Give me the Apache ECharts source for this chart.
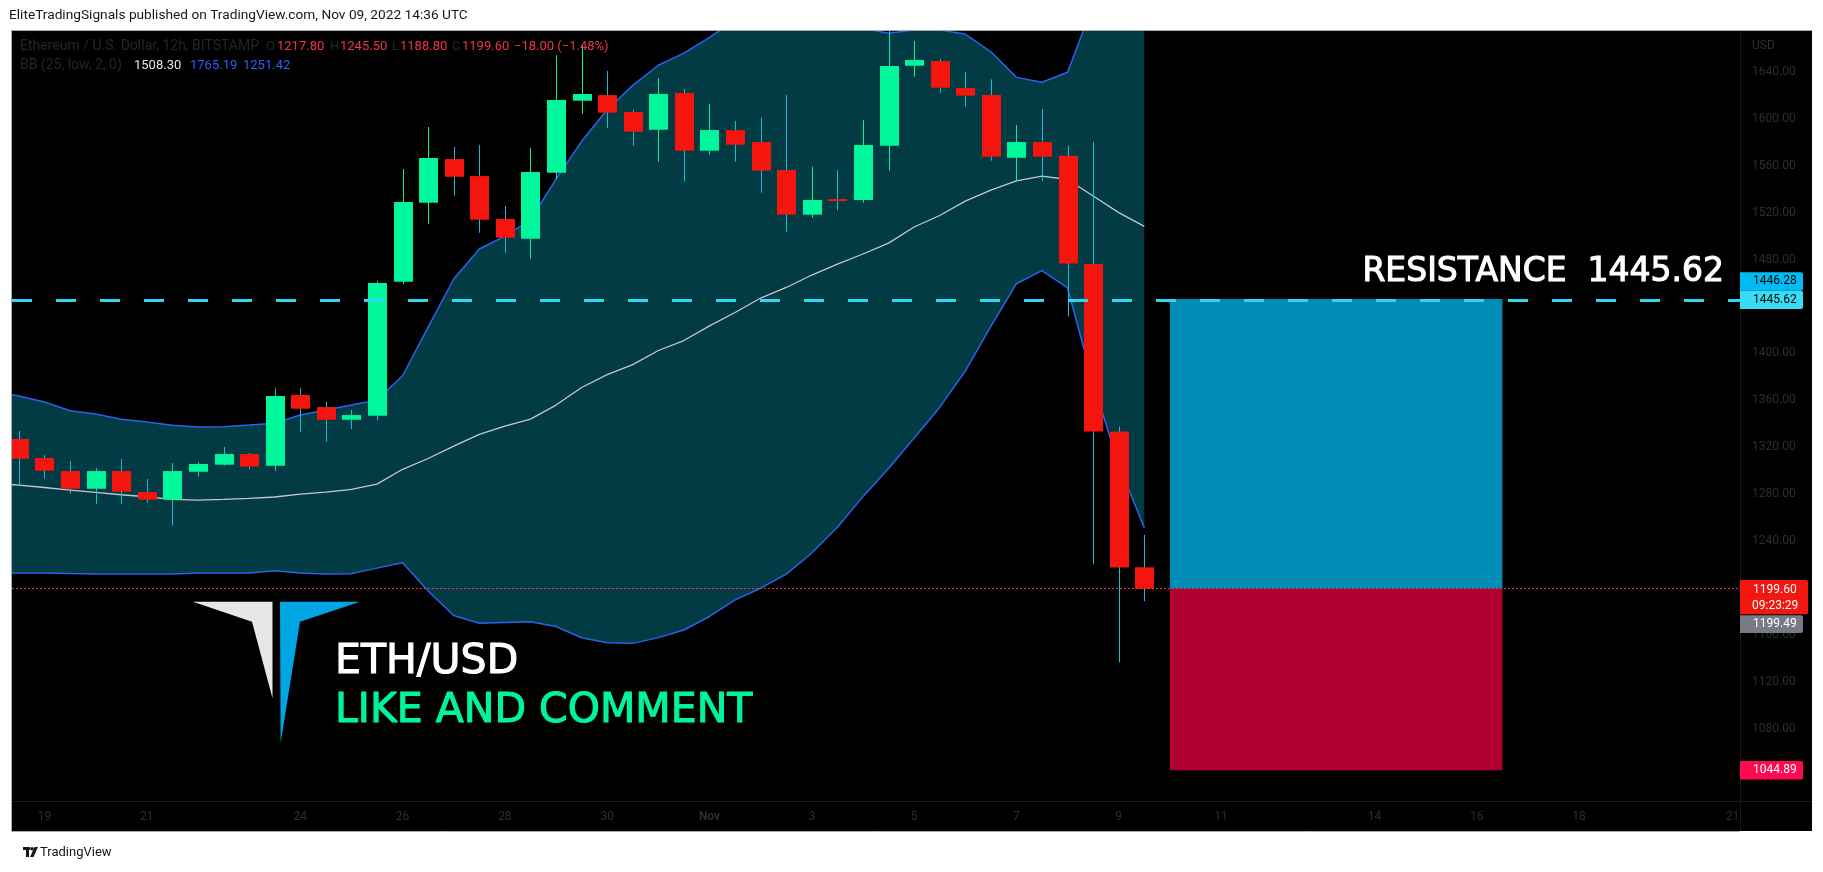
<!DOCTYPE html>
<html><head><meta charset="utf-8">
<script src="https://cdn.jsdelivr.net/npm/echarts@6/dist/echarts.min.js"></script>
<style>html,body{margin:0;padding:0;background:#fff;}#c{width:1823px;height:872px;}</style>
</head><body><div id="c"></div>
<script>
// ---------------- data ----------------
const barTimes = ['2022-10-18 00:00','2022-10-18 12:00','2022-10-19 00:00','2022-10-19 12:00','2022-10-20 00:00','2022-10-20 12:00','2022-10-21 00:00','2022-10-21 12:00','2022-10-22 00:00','2022-10-22 12:00','2022-10-23 00:00','2022-10-23 12:00','2022-10-24 00:00','2022-10-24 12:00','2022-10-25 00:00','2022-10-25 12:00','2022-10-26 00:00','2022-10-26 12:00','2022-10-27 00:00','2022-10-27 12:00','2022-10-28 00:00','2022-10-28 12:00','2022-10-29 00:00','2022-10-29 12:00','2022-10-30 00:00','2022-10-30 12:00','2022-10-31 00:00','2022-10-31 12:00','2022-11-01 00:00','2022-11-01 12:00','2022-11-02 00:00','2022-11-02 12:00','2022-11-03 00:00','2022-11-03 12:00','2022-11-04 00:00','2022-11-04 12:00','2022-11-05 00:00','2022-11-05 12:00','2022-11-06 00:00','2022-11-06 12:00','2022-11-07 00:00','2022-11-07 12:00','2022-11-08 00:00','2022-11-08 12:00','2022-11-09 00:00','2022-11-09 12:00'];
const openP  = [1331.0,1327.1,1310.9,1299.8,1284.7,1299.8,1281.9,1275.4,1299.2,1305.2,1314.3,1304.3,1364.6,1354.3,1343.5,1346.9,1461.1,1528.4,1565.6,1551.1,1514.5,1497.7,1554.0,1615.3,1620.1,1605.7,1590.6,1621.9,1572.7,1590.3,1580.1,1556.3,1518.2,1531.5,1530.7,1577.0,1645.1,1649.1,1626.1,1620.1,1566.7,1580.1,1568.4,1476.3,1333.4,1217.80];
const highP  = [1338.0,1333.9,1313.4,1308.3,1302.4,1310.0,1293.0,1306.6,1307.5,1320.3,1315.2,1370.5,1370.5,1358.6,1351.8,1462.0,1557.1,1592.9,1575.9,1577.6,1525.6,1575.0,1654.0,1663.0,1640.6,1607.6,1634.6,1625.3,1612.5,1598.0,1600.8,1620.1,1559.1,1556.3,1598.9,1680.0,1666.2,1650.8,1639.7,1633.5,1594.6,1608.2,1576.9,1580.1,1337.6,1245.50];
const lowP   = [1318.0,1287.9,1293.3,1280.5,1272.0,1272.0,1272.8,1253.2,1295.0,1304.6,1301.5,1299.8,1333.3,1324.8,1335.6,1343.0,1459.1,1510.5,1534.4,1502.8,1485.8,1480.7,1548.8,1604.2,1592.3,1577.0,1563.3,1546.3,1569.3,1563.3,1536.9,1503.7,1515.6,1522.2,1528.4,1555.7,1635.7,1622.1,1610.2,1564.2,1547.1,1547.1,1431.4,1220.4,1136.9,1188.80];
const closeP = [1327.0,1310.3,1300.1,1284.7,1299.8,1282.2,1275.4,1299.8,1305.8,1314.3,1303.5,1363.7,1352.9,1343.5,1347.5,1460.0,1529.0,1566.5,1550.5,1513.9,1498.6,1554.6,1615.9,1621.0,1605.1,1588.9,1621.0,1572.7,1590.3,1577.8,1555.7,1518.2,1530.7,1529.8,1577.6,1644.9,1650.0,1626.4,1619.6,1567.6,1580.1,1567.6,1476.6,1333.4,1217.60,1199.60];
const bbBasis = [1289.5,1287.8,1285.8,1283.6,1281.7,1279.6,1277.9,1275.7,1275.1,1275.7,1276.6,1277.7,1280.2,1281.9,1284.2,1288.7,1301.3,1310.5,1321.0,1331.0,1338.0,1344.0,1356.0,1371.0,1382.0,1390.5,1402.5,1411.0,1423.5,1434.9,1447.2,1456.2,1466.8,1476.1,1484.7,1494.0,1507.7,1517.5,1529.8,1539.2,1547.1,1551.1,1548.2,1534.1,1520.0,1508.30];
const bbUpper = [1368.0,1363.7,1358.6,1351.2,1348.4,1343.9,1341.6,1338.8,1337.3,1337.6,1339.0,1340.5,1347.5,1351.8,1356.0,1360.3,1381.0,1422.5,1463.4,1489.0,1500.0,1513.7,1548.5,1580.7,1607.6,1628.4,1645.5,1655.9,1669.3,1684.0,1692.0,1697.0,1695.0,1688.0,1677.0,1672.7,1675.5,1675.5,1672.1,1657.0,1635.2,1631.0,1639.5,1697.0,1735.0,1765.19];
const bbLower = [1213.0,1212.9,1213.0,1212.5,1212.0,1212.0,1212.0,1212.0,1213.0,1213.0,1213.0,1214.9,1212.9,1212.0,1212.4,1217.1,1221.6,1197.6,1176.7,1170.1,1170.8,1171.4,1167.3,1157.8,1153.5,1153.0,1157.9,1164.4,1175.9,1190.0,1200.0,1212.0,1230.0,1252.0,1278.0,1302.0,1328.0,1354.0,1385.0,1423.0,1459.4,1470.5,1455.8,1374.8,1304.9,1251.42];
const timeTickDates  = ['2022-10-19 00:00','2022-10-21 00:00','2022-10-24 00:00','2022-10-26 00:00','2022-10-28 00:00','2022-10-30 00:00','2022-11-01 00:00','2022-11-03 00:00','2022-11-05 00:00','2022-11-07 00:00','2022-11-09 00:00','2022-11-11 00:00','2022-11-14 00:00','2022-11-16 00:00','2022-11-18 00:00','2022-11-21 00:00'];
const timeTickLabels = ['19','21','24','26','28','30','Nov','3','5','7','9','11','14','16','18','21'];
const priceTicks = [1040,1080,1120,1160,1200,1240,1280,1320,1360,1400,1440,1480,1520,1560,1600,1640];
const resistanceLevel = 1445.62;
const posStart = '2022-11-10 00:00';
const posEnd = '2022-11-16 12:00';
const posTarget = 1446.28;
const posEntry = 1199.49;
const posStop = 1044.89;
const countdown = '09:23:29';

// ---------------- helpers ----------------
function parseT(s){const [d,t]=s.split(' ');const [Y,M,D]=d.split('-').map(Number);const [h,m]=t.split(':').map(Number);return Date.UTC(Y,M-1,D,h,m);}
const T0 = parseT('2022-10-18 12:00');
const BAR = 12*3600*1000;
const xOf = s => (parseT(s)-T0)/BAR;
const xs = barTimes.map(xOf);
const candleData = xs.map((x,i)=>[x,openP[i],highP[i],lowP[i],closeP[i]]);
const tickX = timeTickDates.map(xOf);
const pair = arr => xs.map((x,i)=>[x,arr[i]]);

const GREEN='#00f79b', RED='#f5150f', CYAN='#14bfd8', FONT='Roboto, "Liberation Sans", Arial, sans-serif';
const AXC='#2a2e37';

const chart = echarts.init(document.getElementById('c'), null, {renderer:'canvas'});
chart.setOption({
  animation:false,
  backgroundColor:'#ffffff',
  grid:{left:12,right:83,top:31,bottom:71,containLabel:false},
  xAxis:{type:'value',min:-0.27,max:67.29,
    axisLine:{show:false},axisTick:{show:false},splitLine:{show:false},
    axisLabel:{customValues:tickX,margin:10,color:AXC,fontFamily:FONT,fontSize:12,
      formatter:v=>{let k=0,b=1e9;tickX.forEach((t,i)=>{if(Math.abs(t-v)<b){b=Math.abs(t-v);k=i;}});return timeTickLabels[k]==='Nov'?'{b|Nov}':timeTickLabels[k];},
      rich:{b:{fontWeight:'bold',color:AXC,fontFamily:FONT,fontSize:12}}}},
  yAxis:{type:'value',position:'right',min:1018.7,max:1674.7,scale:true,
    axisLine:{show:false},axisTick:{show:false},splitLine:{show:false},
    axisLabel:{customValues:priceTicks,margin:12,color:AXC,fontFamily:FONT,fontSize:12,formatter:v=>v.toFixed(2)}},
  series:[
    {type:'custom',name:'bbFill',z:1,clip:true,silent:true,
      data:xs.map((x,i)=>[x,bbUpper[i],bbLower[i]]),encode:{x:0,y:[1,2]},
      renderItem:(params,api)=>{
        if(params.dataIndex!==0) return null;
        const up=xs.map((x,i)=>api.coord([x,bbUpper[i]]));
        const lo=xs.map((x,i)=>api.coord([x,bbLower[i]])).reverse();
        return {type:'polygon',shape:{points:up.concat(lo)},style:{fill:'#023b44'}};
      }},
    {type:'line',name:'positionTool',data:[],z:1.5,silent:true,
      markArea:{silent:true,data:[
        [{xAxis:xOf(posStart),yAxis:posTarget,itemStyle:{color:'#008db5',opacity:1}},{xAxis:xOf(posEnd),yAxis:posEntry}],
        [{xAxis:xOf(posStart),yAxis:posEntry,itemStyle:{color:'#b0002f',opacity:1}},{xAxis:xOf(posEnd),yAxis:posStop}]
      ]}},
    {type:'line',name:'bbUpper',data:pair(bbUpper),symbol:'none',lineStyle:{color:'#2a63ea',width:1.5},z:2,silent:true},
    {type:'line',name:'bbLower',data:pair(bbLower),symbol:'none',lineStyle:{color:'#2a63ea',width:1.5},z:2,silent:true},
    {type:'line',name:'bbBasis',data:pair(bbBasis),symbol:'none',lineStyle:{color:'#c4c7cd',width:1.3},z:2,silent:true},
    {type:'line',name:'levels',data:[],z:2.5,silent:true,
      markLine:{silent:true,symbol:['none','none'],label:{show:false},
        data:[
          {yAxis:resistanceLevel,lineStyle:{color:'#2ed6f2',width:3,type:[20,24]}},
          {yAxis:closeP[closeP.length-1],lineStyle:{color:'#f23645',width:1,type:[2,2]}}
        ]}},
    {type:'custom',name:'ETHUSD',z:3,clip:true,encode:{x:0,y:[1,2,3,4]},data:candleData,
      renderItem:(params,api)=>{
        const x=api.value(0),o=api.value(1),h=api.value(2),l=api.value(3),c=api.value(4);
        const pO=api.coord([x,o]),pC=api.coord([x,c]),pH=api.coord([x,h]),pL=api.coord([x,l]);
        const w=Math.round(api.size([1,0])[0]*0.73);
        const up=c>=o;
        const top=Math.min(pO[1],pC[1]),bot=Math.max(pO[1],pC[1]);
        const cx=Math.round(pO[0]);
        const wick=up?(x>=15?GREEN:CYAN):CYAN;
        return {type:'group',children:[
          {type:'line',shape:{x1:cx+0.5,y1:pH[1],x2:cx+0.5,y2:pL[1]},style:{stroke:wick,lineWidth:1}},
          {type:'rect',shape:{x:cx-Math.floor(w/2),y:top,width:w,height:Math.max(bot-top,2)},style:{fill:up?GREEN:RED}}
        ]};
      }}
  ]
});

// ---------------- overlays ----------------
const yP = v => chart.convertToPixel({yAxisIndex:0}, v);
const txt = (x,y,text,fill,size,extra) => Object.assign({type:'text',x:x,y:y,z:50,silent:true,
  style:Object.assign({text:text,fill:fill,font:(size||12)+'px '+FONT,textAlign:'left',align:'left',textVerticalAlign:'middle',verticalAlign:'middle'},extra||{})});
const rect = (x,y,w,h,fill,z,r) => ({type:'rect',z:z||40,silent:true,shape:{x:x,y:y,width:w,height:h,r:r||0},style:{fill:fill}});

const last = closeP.length-1;
const chg = closeP[last]-closeP[last-1];
const pct = chg/closeP[last-1]*100;
const fmtS = v => (v<0?'\u2212':'+')+Math.abs(v).toFixed(2);

const yRes = yP(resistanceLevel), yLast = yP(closeP[last]), yStop = yP(posStop);
const G = [];
// panel
G.push({type:'rect',z:-1,silent:true,shape:{x:11,y:30,width:1801,height:801},style:{fill:'#000'}});
G.push({type:'line',z:45,silent:true,shape:{x1:11,y1:30.5,x2:1812,y2:30.5},style:{stroke:'#a8abb3',lineWidth:1}});
G.push({type:'line',z:45,silent:true,shape:{x1:11,y1:831.5,x2:1740,y2:831.5},style:{stroke:'#a8abb3',lineWidth:1}});
G.push({type:'line',z:45,silent:true,shape:{x1:11.5,y1:30,x2:11.5,y2:832},style:{stroke:'#a8abb3',lineWidth:1}});
G.push({type:'line',z:5,silent:true,shape:{x1:1740.5,y1:31,x2:1740.5,y2:831},style:{stroke:'#16181e',lineWidth:1}});
G.push({type:'line',z:5,silent:true,shape:{x1:12,y1:801.5,x2:1812,y2:801.5},style:{stroke:'#16181e',lineWidth:1}});
// header
G.push(txt(9,16,'EliteTradingSignals published on TradingView.com, Nov 09, 2022 14:36 UTC','#131722',13.7));
// legend line 1
const DK='#23262e', LR='#f23645';
G.push(txt(20,46.5,'Ethereum / U.S. Dollar, 12h, BITSTAMP',DK,14));
G.push(txt(266,46.5,'O',DK,13)); G.push(txt(277,46.5,openP[last].toFixed(2),LR,13));
G.push(txt(330,46.5,'H',DK,13)); G.push(txt(340,46.5,highP[last].toFixed(2),LR,13));
G.push(txt(392,46.5,'L',DK,13)); G.push(txt(400,46.5,lowP[last].toFixed(2),LR,13));
G.push(txt(452,46.5,'C',DK,13)); G.push(txt(462,46.5,closeP[last].toFixed(2),LR,13));
G.push(txt(514,46.5,fmtS(chg)+' ('+fmtS(pct)+'%)',LR,13));
// legend line 2
G.push(txt(20,65.5,'BB (25, low, 2, 0)',DK,14));
G.push(txt(134,65.5,bbBasis[last].toFixed(2),'#e6e6e6',13));
G.push(txt(190,65.5,bbUpper[last].toFixed(2),'#2962ff',13));
G.push(txt(243,65.5,bbLower[last].toFixed(2),'#2962ff',13));
// USD
G.push(txt(1752,46,'USD',AXC,12));
// tags
G.push(rect(1740,yRes-9.2-18.4,63,18.4,'#00bcf2',40,[0,2,2,0]));
G.push(txt(1753,yRes-9.2-9.2,posTarget.toFixed(2),'#000',12));
G.push(rect(1740,yRes-9.2,63,18.4,'#38dcf5',40,[0,2,2,0]));
G.push(txt(1753,yRes,resistanceLevel.toFixed(2),'#000',12));
G.push(rect(1740,yLast-8.6,68,34.3,'#f2170f',40,[0,2,2,0]));
G.push(txt(1753,yLast+1.4,closeP[last].toFixed(2),'#fff',12));
G.push(txt(1752,yLast+17,countdown,'#fff',12));
G.push(rect(1740,yLast-8.6+34.3+1,63,17.6,'#787b86',40,[0,2,2,0]));
G.push(txt(1753,yLast-8.6+34.3+1+8.8,posEntry.toFixed(2),'#fff',12));
G.push(rect(1740,yStop-9.2,63,18.4,'#ff0a50',40,[0,2,2,0]));
G.push(txt(1753,yStop,posStop.toFixed(2),'#fff',12));
// annotations
const BIG = {stroke:'#ffffff',lineWidth:1.1};
G.push(txt(1724,yRes-27.5,'RESISTANCE  '+resistanceLevel.toFixed(2),'#ffffff',33,Object.assign({font:'33px "DejaVu Sans", sans-serif',textAlign:'right',align:'right'},BIG)));
G.push({type:'polygon',z:50,silent:true,shape:{points:[[193,601.7],[272.5,601.7],[272.5,698.3],[252,621.7]]},style:{fill:'#e6e6e6'}});
G.push({type:'polygon',z:50,silent:true,shape:{points:[[280,601.7],[360,601.7],[300,621.7],[280.6,743.3]]},style:{fill:'#00a6e4'}});
G.push(txt(335,662.5,'ETH/USD','#ffffff',41,Object.assign({font:'41px "DejaVu Sans", sans-serif'},BIG)));
G.push(txt(335,711.5,'LIKE AND COMMENT','#00f59b',41,{font:'41px "DejaVu Sans", sans-serif',stroke:'#00f59b',lineWidth:1.1}));
// bottom logo
G.push(rect(23,847,7,3,'#131722',50)); G.push(rect(26,847,3,10,'#131722',50));
G.push({type:'circle',z:50,silent:true,shape:{cx:32,cy:848.8,r:1.8},style:{fill:'#131722'}});
G.push({type:'polygon',z:50,silent:true,shape:{points:[[34.5,847],[38,847],[33.5,857],[30,857]]},style:{fill:'#131722'}});
G.push(txt(40,852.5,'TradingView','#131722',13));
chart.setOption({graphic:G});
</script>
</body></html>
